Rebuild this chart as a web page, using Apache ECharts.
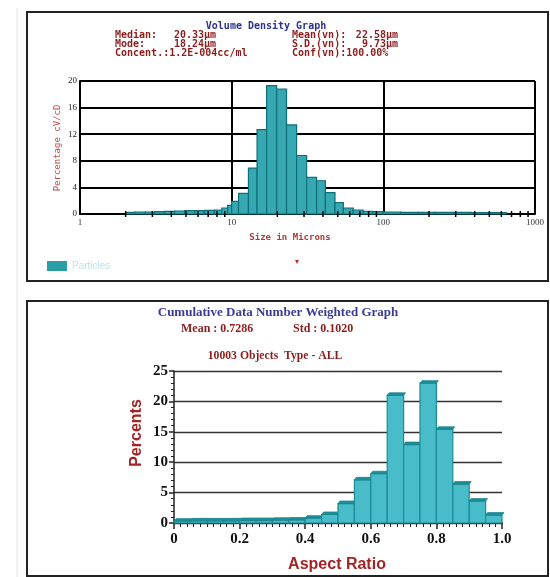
<!DOCTYPE html>
<html>
<head>
<meta charset="utf-8">
<script src="https://cdn.jsdelivr.net/npm/echarts@6/dist/echarts.min.js"></script>
<style>
html,body{margin:0;padding:0;background:#fff;}
#main{width:550px;height:577px;}
</style>
</head>
<body>
<div id="main"></div>
<script>
// ---------- Top chart: Volume Density Graph (log-spaced size bins, microns) ----------
const volBinEdges = [2.0, 2.3, 2.7, 3.1, 3.6, 4.2, 4.9, 5.7, 6.6, 7.7, 8.6, 9.4, 10.0,
  11.1, 12.9, 14.7, 17.0, 19.8, 23.0, 26.8, 31.2, 36.3, 41.5, 48.0, 54.5, 63.3, 73.6, 85, 100,
  130, 170, 220, 290, 380, 500, 650];
const volPercent = [0.25, 0.3, 0.3, 0.35, 0.4, 0.45, 0.5, 0.5, 0.55, 0.6, 0.9, 1.3,
  1.9, 3.1, 6.9, 12.7, 19.3, 18.8, 13.4, 8.8, 5.5, 5.0, 3.2, 1.7, 0.9, 0.6, 0.4, 0.35,
  0.3, 0.25, 0.25, 0.25, 0.25, 0.2, 0.2];
const volXTickLabels = ['1', '10', '100', '1000'];
const volMinorTicks = [2,3,4,5,6,7,8,9,20,30,40,50,60,70,80,90,200,300,400,500,600,700,800,900];
const volStatsLeft = [['Median:', '20.33\u00b5m'], ['Mode:', '18.24\u00b5m'], ['Concent.:1.2E-004cc/ml', '']];
const volStatsRight = [['Mean(vn):', '22.58\u00b5m'], ['S.D.(vn):', '9.73\u00b5m'], ['Conf(vn):100.00%', '']];

// ---------- Bottom chart: Aspect ratio histogram ----------
const aspectBinStart = [0, 0.05, 0.1, 0.15, 0.2, 0.25, 0.3, 0.35, 0.4, 0.45,
  0.5, 0.55, 0.6, 0.65, 0.7, 0.75, 0.8, 0.85, 0.9, 0.95];
const aspectBinWidth = 0.05;
const aspectPercent = [0.3, 0.35, 0.35, 0.35, 0.4, 0.4, 0.45, 0.5, 0.8, 1.4,
  3.2, 7.1, 8.1, 21.0, 12.9, 23.0, 15.4, 6.4, 3.6, 1.3];
const aspectXTickLabels = {0: '0', 0.2: '0.2', 0.4: '0.4', 0.6: '0.6', 0.8: '0.8', 1: '1.0'};

const volData = volPercent.map((v, i) => [volBinEdges[i], volBinEdges[i + 1], v]);
const aspectData = aspectPercent.map((v, i) => [aspectBinStart[i], +(aspectBinStart[i] + aspectBinWidth).toFixed(2), v]);

const mono = '"DejaVu Sans Mono", "Liberation Mono", monospace';
const serif = '"Liberation Serif", "DejaVu Serif", serif';
const sans = '"Liberation Sans", Arial, sans-serif';
const darkRed = '#8d1c1c';

const graphics = [
  // faint outer edge
  {type: 'line', shape: {x1: 17, y1: 8, x2: 17, y2: 577}, style: {stroke: '#e2e2e2', lineWidth: 1}},
  // panel frames
  {type: 'rect', shape: {x: 27, y: 12, width: 521, height: 269}, style: {fill: 'none', stroke: '#222', lineWidth: 2}, z: 100},
  {type: 'rect', shape: {x: 27, y: 301, width: 521, height: 275}, style: {fill: 'none', stroke: '#222', lineWidth: 2}, z: 100},
  // top texts
  {type: 'text', x: 266, y: 26, style: {text: 'Volume Density Graph', font: 'bold 10px ' + mono, fill: '#2e3192', align: 'center', verticalAlign: 'middle'}},
  {type: 'text', x: 290, y: 238, style: {text: 'Size in Microns', font: 'bold 9px ' + mono, fill: '#b33a3a', align: 'center', verticalAlign: 'middle'}},
  {type: 'text', x: 58, y: 148, rotation: Math.PI / 2, style: {text: 'Percentage cV/cD', font: '9px ' + mono, fill: '#c04a4a', align: 'center', verticalAlign: 'middle'}},
  {type: 'text', x: 297, y: 262, style: {text: '\u25be', font: '8px ' + sans, fill: '#c03030', align: 'center', verticalAlign: 'middle'}},
  // bottom texts
  {type: 'text', x: 278, y: 313, style: {text: 'Cumulative Data Number Weighted Graph', font: 'bold 13px ' + serif, fill: '#3b3b95', align: 'center', verticalAlign: 'middle'}},
  {type: 'text', x: 181, y: 329, style: {text: 'Mean : 0.7286', font: 'bold 12px ' + serif, fill: darkRed, align: 'left', verticalAlign: 'middle'}},
  {type: 'text', x: 293, y: 329, style: {text: 'Std : 0.1020', font: 'bold 12px ' + serif, fill: darkRed, align: 'left', verticalAlign: 'middle'}},
  {type: 'text', x: 275, y: 356, style: {text: '10003 Objects  Type - ALL', font: 'bold 11.7px ' + serif, fill: darkRed, align: 'center', verticalAlign: 'middle'}},
  {type: 'text', x: 137, y: 433, rotation: Math.PI / 2, style: {text: 'Percents', font: 'bold 16px ' + sans, fill: '#a32424', align: 'center', verticalAlign: 'middle'}},
  {type: 'text', x: 337, y: 565, style: {text: 'Aspect Ratio', font: 'bold 16px ' + sans, fill: '#a32424', align: 'center', verticalAlign: 'middle'}}
];
const statRowsY = [35, 44, 53];
volStatsLeft.forEach((r, i) => {
  graphics.push({type: 'text', x: 115, y: statRowsY[i], style: {text: r[0], font: 'bold 10px ' + mono, fill: darkRed, align: 'left', verticalAlign: 'middle'}});
  if (r[1]) graphics.push({type: 'text', x: 174, y: statRowsY[i], style: {text: r[1], font: 'bold 10px ' + mono, fill: darkRed, align: 'left', verticalAlign: 'middle'}});
});
volStatsRight.forEach((r, i) => {
  graphics.push({type: 'text', x: 292, y: statRowsY[i], style: {text: r[0], font: 'bold 10px ' + mono, fill: darkRed, align: 'left', verticalAlign: 'middle'}});
  if (r[1]) graphics.push({type: 'text', x: 398, y: statRowsY[i], style: {text: r[1], font: 'bold 10px ' + mono, fill: darkRed, align: 'right', verticalAlign: 'middle'}});
});

const chart = echarts.init(document.getElementById('main'), null, {renderer: 'canvas'});
chart.setOption({
  animation: false,
  backgroundColor: '#ffffff',
  legend: {
    data: [{name: 'Particles', icon: 'rect'}],
    left: 42, top: 256, itemWidth: 20, itemHeight: 10, itemGap: 10,
    textStyle: {color: '#c3e2ea', fontSize: 10, fontFamily: sans}
  },
  grid: [
    {left: 80, top: 81, width: 455, height: 133},
    {left: 174, top: 371, width: 328, height: 152}
  ],
  xAxis: [
    {
      gridIndex: 0, type: 'log', logBase: 10, min: 1, max: 1000,
      axisLine: {show: true, lineStyle: {color: '#000', width: 2}},
      axisTick: {show: false},
      splitLine: {show: true, lineStyle: {color: '#000', width: 2}},
      axisLabel: {
        show: true, margin: 4, color: '#333', fontSize: 9, fontFamily: serif,
        formatter: function (v) {
          const e = Math.round(Math.log10(v));
          return volXTickLabels[e] !== undefined ? volXTickLabels[e] : '';
        }
      }
    },
    {
      gridIndex: 1, type: 'value', min: 0, max: 1, interval: 0.2,
      axisLine: {show: true, lineStyle: {color: '#222', width: 2}},
      axisTick: {show: true, length: 6, lineStyle: {color: '#222', width: 1.5}},
      minorTick: {show: true, splitNumber: 10, length: 4, lineStyle: {color: '#222', width: 1}},
      splitLine: {show: false},
      axisLabel: {
        margin: 9, color: '#111', fontSize: 15, fontWeight: 'bold', fontFamily: serif,
        formatter: function (v) { const k = Math.round(v * 10) / 10; return aspectXTickLabels[k] !== undefined ? aspectXTickLabels[k] : ''; }
      }
    }
  ],
  yAxis: [
    {
      gridIndex: 0, type: 'value', min: 0, max: 20, interval: 4,
      axisLine: {show: true, lineStyle: {color: '#000', width: 2}},
      axisTick: {show: false},
      splitLine: {show: true, lineStyle: {color: '#000', width: 2}},
      axisLabel: {margin: 3, color: '#222', fontSize: 9, fontFamily: serif}
    },
    {
      gridIndex: 1, type: 'value', min: 0, max: 25, interval: 5,
      axisLine: {show: true, lineStyle: {color: '#222', width: 1.5}},
      axisTick: {show: true, length: 5, lineStyle: {color: '#222', width: 1.5}},
      minorTick: {show: true, splitNumber: 5, length: 3, lineStyle: {color: '#222', width: 1}},
      splitLine: {show: true, lineStyle: {color: '#333', width: 1.3}},
      axisLabel: {margin: 6, color: '#111', fontSize: 15, fontWeight: 'bold', fontFamily: serif}
    }
  ],
  series: [
    {
      name: 'Particles', type: 'custom', xAxisIndex: 0, yAxisIndex: 0,
      itemStyle: {color: '#2a9da7'},
      encode: {x: [0, 1], y: 2},
      data: volData,
      renderItem: function (params, api) {
        const p0 = api.coord([api.value(0), api.value(2)]);
        const p1 = api.coord([api.value(1), 0]);
        return {
          type: 'rect',
          shape: {x: p0[0], y: p0[1], width: p1[0] - p0[0], height: p1[1] - p0[1]},
          style: {fill: '#36a8b1', stroke: '#0f6f78', lineWidth: 1.2}
        };
      },
      z: 5
    },
    {
      name: 'minorTicks', type: 'custom', xAxisIndex: 0, yAxisIndex: 0,
      encode: {x: 0, y: 1},
      data: volMinorTicks.map(v => [v, 0]),
      renderItem: function (params, api) {
        const p = api.coord([api.value(0), 0]);
        return {type: 'line', shape: {x1: p[0], y1: p[1] - 3, x2: p[0], y2: p[1] + 3}, style: {stroke: '#000', lineWidth: 1.5}};
      },
      z: 10, silent: true
    },
    {
      name: 'Aspect', type: 'custom', xAxisIndex: 1, yAxisIndex: 1,
      encode: {x: [0, 1], y: 2},
      data: aspectData,
      renderItem: function (params, api) {
        const p0 = api.coord([api.value(0), api.value(2)]);
        const p1 = api.coord([api.value(1), 0]);
        const x0 = p0[0], x1 = p1[0], y0 = p0[1], yb = p1[1];
        return {
          type: 'group',
          children: [
            {type: 'rect', shape: {x: x0, y: y0, width: x1 - x0, height: yb - y0},
             style: {fill: '#48bdc9', stroke: '#1c8b95', lineWidth: 1.2}},
            {type: 'polygon', shape: {points: [[x0, y0], [x0 + 2, y0 - 2.5], [x1 + 2, y0 - 2.5], [x1, y0]]},
             style: {fill: '#1d8e98', stroke: '#1a8590', lineWidth: 0.8}}
          ]
        };
      },
      z: 5
    }
  ],
  graphic: graphics
});
</script>
</body>
</html>
